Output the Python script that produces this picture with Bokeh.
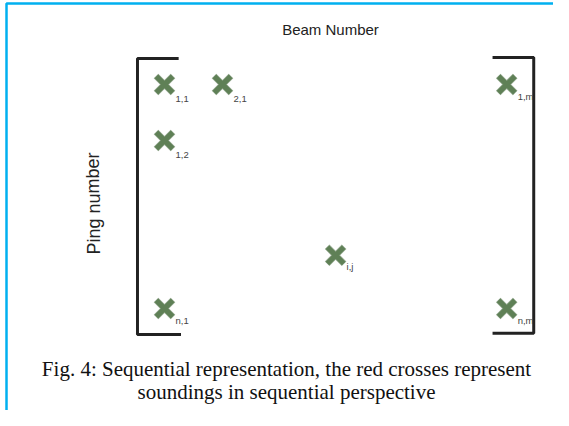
from bokeh.plotting import figure
from bokeh.models import ColumnDataSource, Range1d, Label
from bokeh.core.properties import value
from bokeh.embed import file_html
from bokeh.resources import INLINE

# Soundings: beam index (x) and ping index (y)
beam = [1, 2, 6.9, 1, 3.95, 1, 6.9]
ping = [1, 1, 1, 2, 4.05, 5, 5]
labels = ["1,1", "2,1", "1,m", "1,2", "i,j", "n,1", "n,m"]

x_title = "Beam Number"
y_title = "Ping number"
caption = ["Fig. 4: Sequential representation, the red crosses represent",
           "soundings in sequential perspective"]

W, H = 553, 410
BX, BY = 58.0, 56.0  # px per beam / ping unit
x0 = 1 + (0 - 164) / BX
x1 = x0 + W / BX
y0 = 1 + (0 - 84) / BY
y1 = y0 + H / BY


def px(v):
    return 1 + (v - 164) / BX


def py(v):
    return 1 + (v - 84) / BY


p = figure(width=W, height=H, output_backend="svg", toolbar_location=None,
           x_range=Range1d(x0, x1), y_range=Range1d(y1, y0),
           min_border=0, min_border_left=0, min_border_right=0,
           min_border_top=0, min_border_bottom=0)
p.axis.visible = False
p.grid.visible = False
p.outline_line_color = None
p.background_fill_color = "white"
p.border_fill_color = "white"

# blue frame (top and left)
p.line([x1, px(6), px(6)], [py(3), py(3), y1], line_color="#00b0f0", line_width=2.5)

# brackets derived from data extent
pad_x, pad_y = 0.466, 0.464
lx = min(beam) - pad_x
rx = max(beam) + pad_x
ty = min(ping) - pad_y
by = max(ping) + pad_y
serif = 0.71
bc = "#222222"
p.line([lx + serif, lx, lx, lx + serif + 0.04], [ty, ty, by, by], line_color=bc, line_width=3)
p.line([rx - serif, rx, rx, rx - serif], [ty - 0.02, ty - 0.02, by - 0.02, by - 0.02], line_color=bc, line_width=3)

src = ColumnDataSource(dict(x=beam, y=ping, lab=labels))
p.scatter("x", "y", source=src, marker="x", size=24, line_width=6.5,
          line_color="#4f6f46", line_alpha=0.6)
p.scatter("x", "y", source=src, marker="x", size=23, line_width=5,
          line_color="#5f8056")
p.text("x", "y", text="lab", source=src, x_offset=11, y_offset=17,
       text_font=value("Liberation Sans"), text_font_size="9.5px",
       text_color="#444444", text_align="left", text_baseline="bottom")

p.add_layout(Label(x=px(330), y=py(29), text=x_title,
                   text_font="Liberation Sans", text_font_size="15px",
                   text_color="#222222", text_align="center", text_baseline="middle"))
p.add_layout(Label(x=px(93), y=py(203), text=y_title, angle=1.5708,
                   text_font="Liberation Sans", text_font_size="18px",
                   text_color="#222222", text_align="center", text_baseline="middle"))

for k, line in enumerate(caption):
    p.add_layout(Label(x=px(286), y=py(368 + 23 * k), text=line,
                       text_font="Liberation Serif", text_font_size="21px",
                       text_color="#111111", text_align="center", text_baseline="middle"))

open("out.html", "w").write(file_html(p, INLINE))
